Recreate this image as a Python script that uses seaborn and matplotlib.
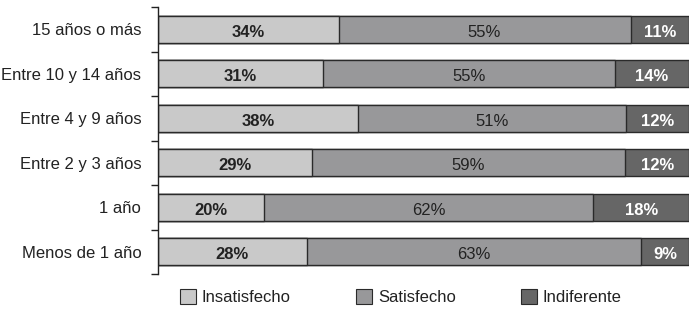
import matplotlib
matplotlib.use("Agg")
import matplotlib.pyplot as plt
from matplotlib.patches import Patch
import seaborn as sns
import pandas as pd
import numpy as np

categories = ["15 años o más", "Entre 10 y 14 años", "Entre 4 y 9 años",
              "Entre 2 y 3 años", "1 año", "Menos de 1 año"]
insatisfecho = [34, 31, 38, 29, 20, 28]
satisfecho = [55, 55, 51, 59, 62, 63]
indiferente = [11, 14, 12, 12, 18, 9]
series_names = ["Insatisfecho", "Satisfecho", "Indiferente"]
colors = ["#c9c9c9", "#98989a", "#666666"]
text_colors = ["#222222", "#222222", "#ffffff"]
text_weights = ["bold", "normal", "bold"]

sns.set_style("white")
plt.rcParams["font.family"] = ["Liberation Sans", "DejaVu Sans"]

vals = np.array([insatisfecho, satisfecho, indiferente], dtype=float)
totals = vals.sum(axis=0)
shares = vals / totals * 100
cum = np.cumsum(shares, axis=0)
starts = cum - shares

fig = plt.figure(figsize=(6.97, 3.14), dpi=100)
ax = fig.add_axes([158/697, 1-274/314, (689-158)/697, (274-7)/314])

for i in reversed(range(3)):
    df = pd.DataFrame({"cat": categories, "val": cum[i]})
    sns.barplot(data=df, x="val", y="cat", order=categories, orient="h",
                color=colors[i], edgecolor="#2a2a2a", linewidth=1.0,
                width=0.6, saturation=1, ax=ax)

for i in range(3):
    for j, c in enumerate(categories):
        xc = starts[i, j] + shares[i, j] / 2
        ax.text(xc, j + 0.07, f"{int(vals[i, j])}%", ha="center", va="center",
                fontsize=12, color=text_colors[i], fontweight=text_weights[i])

ax.set_xlim(0, 100)
ax.set_ylim(len(categories) - 0.5, -0.5)
ax.set_xlabel("")
ax.set_ylabel("")
ax.set_xticks([])
for s in ["top", "right", "bottom"]:
    ax.spines[s].set_visible(False)
ax.spines["left"].set_color("#222222")
ax.spines["left"].set_linewidth(1.0)
ax.set_yticks(range(len(categories)))
ax.set_yticklabels(categories, fontsize=12, color="#222222")
ax.set_yticks(np.arange(-0.5, len(categories), 1), minor=True)
ax.tick_params(axis="y", which="major", left=True, length=0, pad=12)
ax.tick_params(axis="y", which="minor", left=True, length=5, width=1.0,
               color="#222222", direction="out")

handles = [Patch(facecolor=colors[i], edgecolor="#2a2a2a", linewidth=0.8) for i in range(3)]
fig.legend(handles, series_names, loc="center", bbox_to_anchor=(0.575, 0.053),
           ncol=3, frameon=False, fontsize=12, handlelength=0.96, handleheight=0.96,
           handletextpad=0.36, columnspacing=3.9, labelcolor="#222222")

fig.savefig("out.png", dpi=100)
